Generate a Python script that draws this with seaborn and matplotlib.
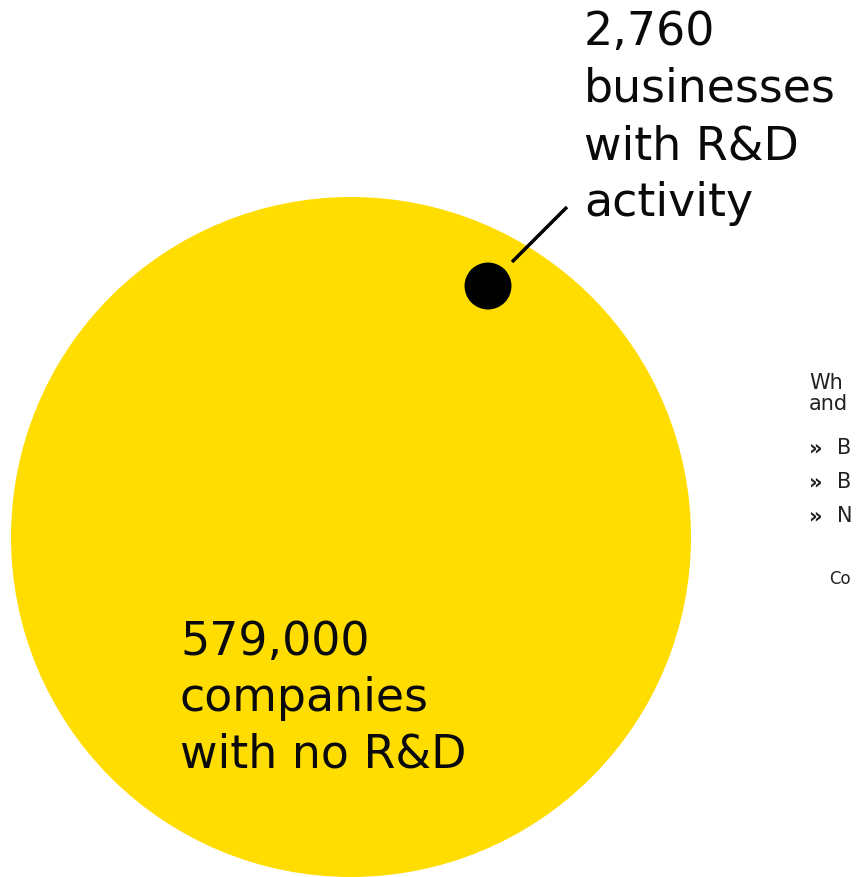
import numpy as np
import matplotlib
matplotlib.use("Agg")
import matplotlib.pyplot as plt
import seaborn as sns
from matplotlib.patches import Circle

# data
groups = ["no_rd", "rd"]
counts = [579000, 2760]
no_rd_lines = ["579,000", "companies", "with no R&D"]
rd_lines = ["2,760", "businesses", "with R&D", "activity"]
colors = ["#FFDD00", "#000000"]
side_lines = ["Wh", "and"]
side_bullets = ["B", "B", "N"]
side_note = "Co"

sns.set_theme(style="white")
plt.rcParams["font.family"] = ["DejaVu Sans"]

W, H = 856, 878
fig = plt.figure(figsize=(W / 100, H / 100), dpi=100)
ax = fig.add_axes([0, 0, 1, 1])
ax.set_xlim(0, W)
ax.set_ylim(H, 0)
ax.set_aspect("equal")
ax.axis("off")

# circle area proportional to count
big_r = 340
radii = [big_r * np.sqrt(c / counts[0]) for c in counts]
centers = [(351, 538), (488, 287)]
for (cx, cy), r, col in zip(centers, radii, colors):
    ax.add_patch(Circle((cx, cy), r, facecolor=col, edgecolor="none"))

# leader line
ax.plot([512, 567], [263, 208], color="black", lw=2.5, solid_capstyle="butt")

big_font = 33
txt_col = "#0a0a0a"
for i, t in enumerate(no_rd_lines):
    ax.text(180, 655 + i * 56.5, t, fontsize=big_font, ha="left", va="baseline",
            color=txt_col)
for i, t in enumerate(rd_lines):
    ax.text(584, 45 + i * 57, t, fontsize=big_font, ha="left", va="baseline",
            color=txt_col)

# cut-off side note
small_col = "#222222"
for y, t in zip([389, 410], side_lines):
    ax.text(809, y, t, fontsize=15, ha="left", va="baseline", color=small_col)
for y, t in zip([454, 488, 522], side_bullets):
    ax.text(809, y, "\u00bb", fontsize=15, ha="left", va="baseline", color=small_col,
            fontweight="bold")
    ax.text(837, y, t, fontsize=15, ha="left", va="baseline", color=small_col)
ax.text(829, 584, side_note, fontsize=12, ha="left", va="baseline", color=small_col)

fig.savefig("out.png", dpi=100, facecolor="white")
